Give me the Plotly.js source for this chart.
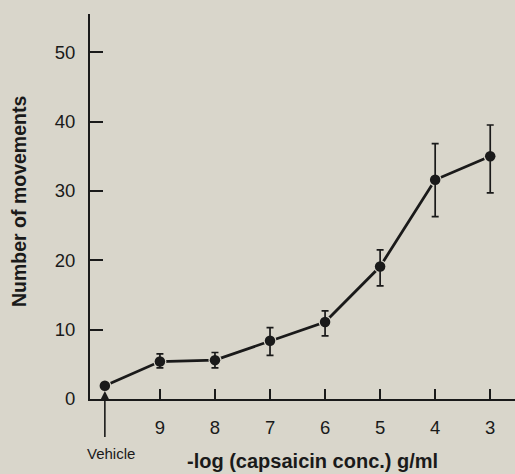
<!DOCTYPE html>
<html>
<head>
<meta charset="utf-8">
<script src="https://cdn.plot.ly/plotly-3.0.1.min.js"></script>
<style>html,body{margin:0;padding:0;background:#d9d6cb;}#chart{width:515px;height:474px;}</style>
</head>
<body>
<div id="chart"></div>
<script>
const categories = ["Vehicle", "9", "8", "7", "6", "5", "4", "3"];
const positions = [0, 1, 2, 3, 4, 5, 6, 7];
const movements = [1.9, 5.4, 5.6, 8.4, 11.1, 19.1, 31.6, 35.0];
const errPlus = [0, 1.1, 1.1, 1.9, 1.6, 2.4, 5.2, 4.5];
const errMinus = [0, 0.9, 1.1, 2.1, 2.0, 2.8, 5.3, 5.3];
const yTicks = [0, 10, 20, 30, 40, 50];

const bg = "#d9d6cb";
const ink = "#1a1a1a";
const fontFam = "Liberation Sans, Arial, Helvetica, sans-serif";

const lineTrace = {
  x: positions,
  y: movements,
  type: "scatter",
  mode: "lines+markers",
  line: {color: ink, width: 2.8},
  marker: {color: ink, size: 10, line: {color: bg, width: 3}},
  hoverinfo: "skip"
};

const pointTrace = {
  x: positions,
  y: movements,
  type: "scatter",
  mode: "markers",
  marker: {color: ink, size: 10.5},
  error_y: {type: "data", symmetric: false, array: errPlus, arrayminus: errMinus,
            color: ink, thickness: 1.7, width: 3.5},
  hoverinfo: "skip"
};

const layout = {
  width: 515, height: 474,
  paper_bgcolor: bg, plot_bgcolor: bg,
  margin: {l: 90, r: 0, t: 14, b: 75},
  showlegend: false,
  font: {family: fontFam, color: ink},
  xaxis: {
    range: [-0.27, 7.45],
    tickvals: positions.slice(1),
    ticktext: categories.slice(1),
    ticks: "inside", ticklen: 10, tickwidth: 2, tickcolor: ink,
    showline: true, linecolor: ink, linewidth: 2,
    showgrid: false, zeroline: false,
    tickfont: {size: 18.5, color: ink},
    ticklabelstandoff: 11
  },
  yaxis: {
    range: [0, 55.5],
    tickvals: yTicks,
    ticks: "inside", ticklen: 13, tickwidth: 2, tickcolor: ink,
    showline: true, linecolor: ink, linewidth: 2,
    showgrid: false, zeroline: false,
    tickfont: {size: 18.5, color: ink},
    ticklabelstandoff: 9
  },
  annotations: [
    {
      x: 0, y: 1.15, xref: "x", yref: "y",
      text: " ", font: {size: 1},
      showarrow: true, arrowhead: 2, arrowsize: 1, arrowwidth: 1.6, arrowcolor: ink,
      ax: 0, ay: 48, standoff: 0
    },
    {
      x: 0, xref: "x", xshift: 6,
      y: (399 - 453) / 385, yref: "paper",
      text: "Vehicle", font: {size: 15, color: ink},
      showarrow: false, xanchor: "center", yanchor: "middle"
    },
    {
      x: (312 - 90) / 425, xref: "paper",
      y: (399 - 461) / 385, yref: "paper",
      text: "<b>-log (capsaicin conc.) g/ml</b>", font: {size: 20, color: ink},
      showarrow: false, xanchor: "center", yanchor: "middle"
    },
    {
      x: (19 - 90) / 425, xref: "paper",
      y: (399 - 202) / 385, yref: "paper",
      text: "<b>Number of movements</b>", font: {size: 19.5, color: ink},
      textangle: -90,
      showarrow: false, xanchor: "center", yanchor: "middle"
    }
  ]
};

Plotly.newPlot("chart", [lineTrace, pointTrace], layout, {displayModeBar: false, staticPlot: true});
</script>
</body>
</html>
